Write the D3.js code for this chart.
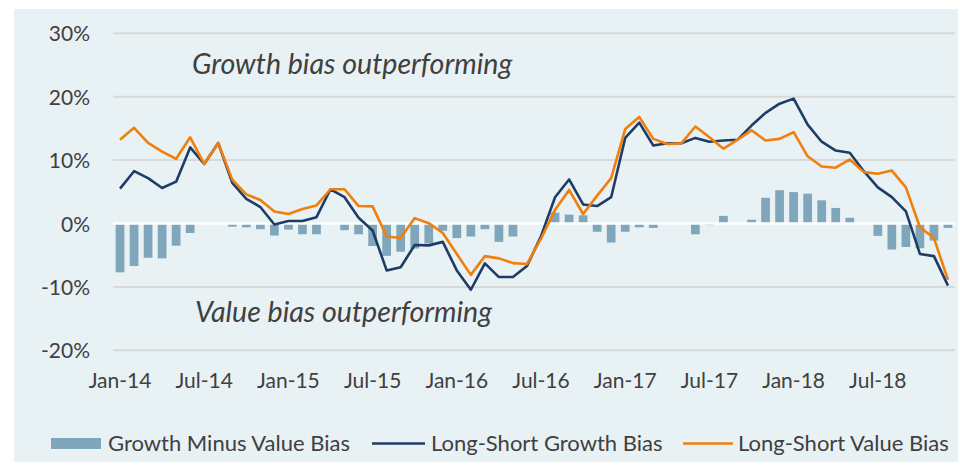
<!DOCTYPE html>
<html>
<head>
<meta charset="utf-8">
<script src="https://cdn.jsdelivr.net/npm/d3@7/dist/d3.min.js"></script>
<style>
  html, body { margin: 0; padding: 0; background: #ffffff; }
  svg { display: block; }
  text { font-family: Lato, "Open Sans", sans-serif; fill: #404040; }
</style>
</head>
<body>
<svg id="chart" width="960" height="467"></svg>
<script>
// Monthly observations, Jan-2014 through Dec-2018 (percent)
const months = [
  "Jan-14","Feb-14","Mar-14","Apr-14","May-14","Jun-14","Jul-14","Aug-14","Sep-14","Oct-14","Nov-14","Dec-14",
  "Jan-15","Feb-15","Mar-15","Apr-15","May-15","Jun-15","Jul-15","Aug-15","Sep-15","Oct-15","Nov-15","Dec-15",
  "Jan-16","Feb-16","Mar-16","Apr-16","May-16","Jun-16","Jul-16","Aug-16","Sep-16","Oct-16","Nov-16","Dec-16",
  "Jan-17","Feb-17","Mar-17","Apr-17","May-17","Jun-17","Jul-17","Aug-17","Sep-17","Oct-17","Nov-17","Dec-17",
  "Jan-18","Feb-18","Mar-18","Apr-18","May-18","Jun-18","Jul-18","Aug-18","Sep-18","Oct-18","Nov-18","Dec-18"
];

const growthMinusValue = [
  -7.7, -6.7, -5.4, -5.5, -3.5, -1.5, 0, 0, -0.5, -0.6, -0.9, -1.9,
  -0.95, -1.7, -1.7, 0, -1.05, -1.7, -3.55, -5.1, -4.45, -3.95, -3.15, -1.15,
  -2.3, -2.05, -0.9, -2.9, -2.05, 0, 0, 1.7, 1.4, 1.3, -1.3, -3.0,
  -1.3, -0.6, -0.7, 0, 0, -1.7, -0.25, 1.2, 0, 0.6, 4.05, 5.25,
  4.95, 4.7, 3.65, 2.45, 0.9, 0, -1.95, -4.1, -3.7, -3.9, -2.7, -0.7
];

const longShortGrowth = [
  5.5, 8.25, 7.15, 5.6, 6.6, 12.0, 9.4, 12.7, 6.4, 3.9, 2.6, -0.15,
  0.4, 0.4, 1.0, 5.4, 4.15, 0.9, -1.1, -7.4, -6.9, -3.4, -3.45, -2.9,
  -7.4, -10.45, -6.3, -8.45, -8.45, -6.7, -2.0, 4.15, 6.95, 3.0, 2.75, 4.15,
  13.5, 15.9, 12.3, 12.65, 12.65, 13.5, 12.9, 13.1, 13.2, 15.45, 17.45, 18.9,
  19.7, 15.6, 12.9, 11.5, 11.15, 8.25, 5.7, 4.15, 1.9, -4.8, -5.15, -9.8
];

const longShortValue = [
  13.2, 15.1, 12.7, 11.35, 10.2, 13.6, 9.4, 12.7, 6.9, 4.6, 3.7, 1.9,
  1.5, 2.3, 2.85, 5.4, 5.4, 2.75, 2.7, -2.05, -2.3, 0.85, 0.05, -1.5,
  -4.8, -8.1, -5.15, -5.5, -6.25, -6.4, -2.4, 2.15, 5.3, 1.5, 4.4, 7.15,
  14.9, 16.8, 13.35, 12.55, 12.65, 15.3, 13.6, 11.8, 13.2, 14.7, 13.1, 13.35,
  14.4, 10.6, 9.0, 8.8, 10.1, 8.1, 7.85, 8.35, 5.7, -0.6, -2.3, -8.9
];

const yTicks = [-20, -10, 0, 10, 20, 30];
const xTickLabels = ["Jan-14","Jul-14","Jan-15","Jul-15","Jan-16","Jul-16","Jan-17","Jul-17","Jan-18","Jul-18"];

const seriesNames = ["Growth Minus Value Bias", "Long-Short Growth Bias", "Long-Short Value Bias"];
const annotations = ["Growth bias outperforming", "Value bias outperforming"];

const colors = {
  panel: "#e8f1f4",
  grid: "#d9d9d9",
  bar: "#7fa6bb",
  growth: "#1f3c66",
  value: "#f07f0c"
};

const svg = d3.select("#chart");

// background panel
svg.append("rect")
  .attr("x", 14).attr("y", 9)
  .attr("width", 944).attr("height", 453)
  .attr("fill", colors.panel);

const plot = { left: 113, right: 955, top: 33.3, bottom: 350.3 };

const x = d3.scaleBand()
  .domain(months)
  .range([plot.left, plot.right])
  .paddingInner(0)
  .paddingOuter(0);

const barWidth = x.step() * 0.62;
const cx = m => x(m) + x.bandwidth() / 2;

const y = d3.scaleLinear()
  .domain([-20, 30])
  .range([plot.bottom, plot.top]);

// horizontal gridlines
svg.append("g")
  .selectAll("line")
  .data(yTicks.filter(t => t !== 0))
  .join("line")
  .attr("x1", plot.left).attr("x2", plot.right)
  .attr("y1", d => y(d)).attr("y2", d => y(d))
  .attr("stroke", colors.grid)
  .attr("stroke-width", 2);

// y axis labels
const yAxis = d3.axisLeft(y)
  .tickValues(yTicks)
  .tickFormat(d => d + "%")
  .tickSize(0)
  .tickPadding(0);

const yAxisG = svg.append("g")
  .attr("transform", `translate(90,0)`)
  .call(yAxis);
yAxisG.select(".domain").remove();
yAxisG.selectAll("text")
  .attr("font-size", 21)
  .attr("dy", "0.36em")
  .style("font-family", "Lato, sans-serif")
  .attr("fill", "#404040");

// x axis labels
const xAxis = d3.axisBottom(x)
  .tickValues(xTickLabels)
  .tickSize(0)
  .tickPadding(0);

const xAxisG = svg.append("g")
  .attr("transform", `translate(0,373)`)
  .call(xAxis);
xAxisG.select(".domain").remove();
xAxisG.selectAll("text")
  .attr("font-size", 21)
  .attr("dy", "0.7em")
  .style("font-family", "Lato, sans-serif")
  .attr("fill", "#404040");

// bars
const barData = months.map((m, i) => ({ m, v: growthMinusValue[i] }));
svg.append("g")
  .selectAll("rect")
  .data(barData.filter(d => d.v !== 0))
  .join("rect")
  .attr("x", d => cx(d.m) - barWidth / 2)
  .attr("width", barWidth)
  .attr("y", d => y(Math.max(0, d.v)))
  .attr("height", d => Math.abs(y(d.v) - y(0)))
  .attr("fill", colors.bar);

// zero line
svg.append("line")
  .attr("x1", plot.left).attr("x2", plot.right)
  .attr("y1", y(0)).attr("y2", y(0))
  .attr("stroke", "#ffffff")
  .attr("stroke-width", 2.5);

// lines
const line = d3.line()
  .x(d => cx(d.m))
  .y(d => y(d.v));

const growthData = months.map((m, i) => ({ m, v: longShortGrowth[i] }));
const valueData = months.map((m, i) => ({ m, v: longShortValue[i] }));

svg.append("path")
  .datum(growthData)
  .attr("d", line)
  .attr("fill", "none")
  .attr("stroke", colors.growth)
  .attr("stroke-width", 2.6)
  .attr("stroke-linejoin", "round");

svg.append("path")
  .datum(valueData)
  .attr("d", line)
  .attr("fill", "none")
  .attr("stroke", colors.value)
  .attr("stroke-width", 2.6)
  .attr("stroke-linejoin", "round");

// region annotations
svg.append("text")
  .attr("x", 192).attr("y", 74)
  .attr("font-size", 28.6)
  .attr("font-style", "italic")
  .text(annotations[0]);

svg.append("text")
  .attr("x", 195).attr("y", 322)
  .attr("font-size", 28.6)
  .attr("font-style", "italic")
  .text(annotations[1]);

// legend
const legend = svg.append("g");
legend.append("rect")
  .attr("x", 51).attr("y", 438)
  .attr("width", 50).attr("height", 11)
  .attr("fill", colors.bar);
legend.append("text")
  .attr("x", 108).attr("y", 451)
  .attr("font-size", 22)
  .text(seriesNames[0]);

legend.append("line")
  .attr("x1", 372).attr("x2", 425)
  .attr("y1", 443.5).attr("y2", 443.5)
  .attr("stroke", colors.growth)
  .attr("stroke-width", 2.6);
legend.append("text")
  .attr("x", 431).attr("y", 451)
  .attr("font-size", 22)
  .text(seriesNames[1]);

legend.append("line")
  .attr("x1", 683).attr("x2", 733)
  .attr("y1", 443.5).attr("y2", 443.5)
  .attr("stroke", colors.value)
  .attr("stroke-width", 2.6);
legend.append("text")
  .attr("x", 738).attr("y", 451)
  .attr("font-size", 22)
  .text(seriesNames[2]);
</script>
</body>
</html>
